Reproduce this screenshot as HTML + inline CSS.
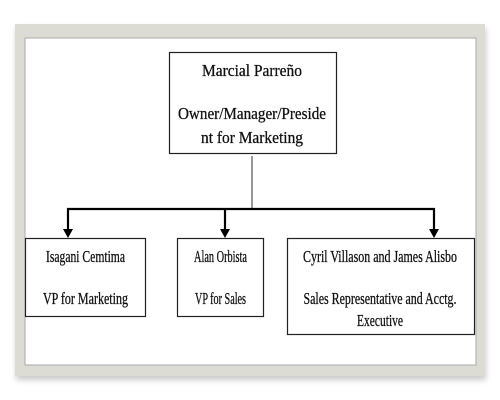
<!DOCTYPE html>
<html><head><meta charset="utf-8"><style>
html,body{margin:0;padding:0;background:#fff;width:500px;height:400px;overflow:hidden}
svg text{font-family:"Liberation Serif",serif;font-size:17px;fill:#111;stroke:#111;stroke-width:0.3}
</style></head><body>
<svg width="500" height="400" viewBox="0 0 500 400">
<defs><filter id="sh" x="-10%" y="-10%" width="120%" height="120%"><feGaussianBlur stdDeviation="3"/></filter></defs>
<rect x="16" y="28" width="470" height="352" fill="#999" opacity="0.5" filter="url(#sh)"/>
<rect x="15" y="24" width="470" height="352" fill="#dcdcd4"/>
<rect x="25" y="38" width="451" height="327" fill="#fff" stroke="#aaa" stroke-width="1"/>
<g fill="none" stroke="#222" stroke-width="1.2">
<rect x="169.5" y="52.5" width="167" height="101"/>
<rect x="25.5" y="238.5" width="120" height="78"/>
<rect x="177.5" y="238.5" width="86" height="78"/>
<rect x="287.5" y="238.5" width="187" height="96"/>
</g>
<line x1="252" y1="156" x2="252" y2="208" stroke="#333" stroke-width="1"/>
<g stroke="#000" stroke-width="2.2" fill="none">
<polyline points="68,236 68,209 434,209 434,236"/>
<line x1="225" y1="209" x2="225" y2="236"/>
</g>
<g fill="#000">
<polygon points="63,229 73,229 68,238"/>
<polygon points="220,229 230,229 225,238"/>
<polygon points="429,229 439,229 434,238"/>
</g>
<g text-anchor="middle">
<text x="252" y="76" textLength="100" lengthAdjust="spacingAndGlyphs">Marcial Parreño</text>
<text x="252" y="119" textLength="148" lengthAdjust="spacingAndGlyphs">Owner/Manager/Preside</text>
<text x="252" y="143" textLength="102" lengthAdjust="spacingAndGlyphs">nt for Marketing</text>
<text x="85.5" y="262" textLength="79" lengthAdjust="spacingAndGlyphs">Isagani Cemtima</text>
<text x="85.5" y="304" textLength="85" lengthAdjust="spacingAndGlyphs">VP for Marketing</text>
<text x="220.5" y="262" textLength="53" lengthAdjust="spacingAndGlyphs">Alan Orbista</text>
<text x="220.5" y="304" textLength="51" lengthAdjust="spacingAndGlyphs">VP for Sales</text>
<text x="380" y="262" textLength="154" lengthAdjust="spacingAndGlyphs">Cyril Villason and James Alisbo</text>
<text x="380" y="304" textLength="153" lengthAdjust="spacingAndGlyphs">Sales Representative and Acctg.</text>
<text x="380" y="326" textLength="46" lengthAdjust="spacingAndGlyphs">Executive</text>
</g>
</svg>
</body></html>
